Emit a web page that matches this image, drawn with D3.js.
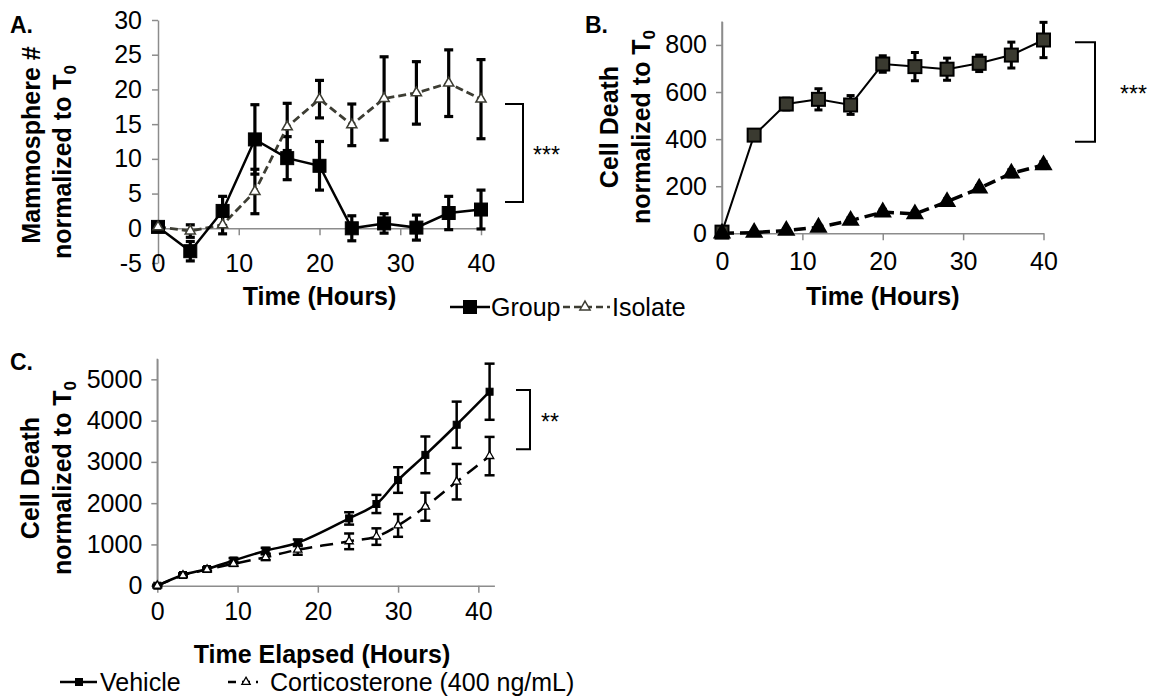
<!DOCTYPE html>
<html>
<head>
<meta charset="utf-8">
<script src="https://cdn.jsdelivr.net/npm/d3@7"></script>
<style>
  body { margin: 0; background: #fff; }
  svg { font-family: "Liberation Sans", Arial, sans-serif; }
</style>
</head>
<body>
<svg id="fig" width="1161" height="697"></svg>
<script>
// ---- data ----
var hoursAB = [0, 4, 8, 12, 16, 20, 24, 28, 32, 36, 40];

// A. mammosphere number
var mammoGroup      = [0.2, -3.3, 2.5, 12.8, 10.1, 9.0, 0.0, 0.7, 0.1, 2.2, 2.7];
var mammoGroupErr   = [0.3, 1.4, 2.1, 5.0, 3.1, 3.5, 1.8, 1.4, 1.8, 2.4, 2.8];
var mammoIsolate    = [0.2, -0.4, 0.5, 5.3, 14.6, 18.6, 14.9, 18.7, 19.5, 20.9, 18.6];
var mammoIsolateErr = [0.3, 0.9, 1.3, 3.2, 3.4, 2.7, 3.0, 6.0, 4.5, 4.8, 5.7];

// B. cell death
var deathGroup      = [5, 417, 549, 569, 545, 719, 708, 697, 722, 757, 821];
var deathGroupErr   = [10, 20, 25, 45, 40, 35, 60, 47, 35, 55, 75];
var deathIsolate    = [0, 3, 12, 25, 54, 90, 82, 134, 191, 255, 290];
var deathIsolateErr = [5, 5, 8, 10, 12, 12, 12, 12, 12, 15, 15];

// C. cell death, vehicle vs corticosterone
var hoursC     = [0, 3.2, 6.2, 9.5, 13.5, 17.5, 23.9, 27.3, 30.0, 33.4, 37.3, 41.4];
var vehicle    = [0, 259, 404, 610, 848, 1040, 1630, 1980, 2560, 3170, 3900, 4700];
var vehicleErr = [20, 40, 40, 60, 70, 80, 150, 220, 310, 445, 560, 680];
var cort       = [0, 250, 390, 530, 690, 870, 1075, 1190, 1460, 1915, 2520, 3140];
var cortErr    = [20, 30, 40, 50, 70, 120, 190, 200, 275, 340, 430, 465];

var ticksA = [-5, 0, 5, 10, 15, 20, 25, 30];
var ticksB = [0, 200, 400, 600, 800];
var ticksC = [0, 1000, 2000, 3000, 4000, 5000];
var xTicks = [0, 10, 20, 30, 40];

var svg = d3.select("#fig");
var axisColor = "#8c8c8c";
var fs = "25px";
var plain = function(d) { return String(d); };

function zip(xs, ys, es) {
  return xs.map(function(x, i) { return { x: x, y: ys[i], e: es[i] }; });
}

function styleAxis(g) {
  g.select(".domain").attr("stroke", axisColor).attr("stroke-width", 1.5);
  g.selectAll(".tick line").attr("stroke", axisColor).attr("stroke-width", 1.5);
  g.selectAll("text").attr("font-size", fs).attr("fill", "#000")
    .attr("font-family", "Liberation Sans, Arial, sans-serif");
}

// two-line rotated y title, second line ends with T subscript 0
function yTitle(x1, x2, cy1, cy2, first) {
  svg.append("text")
    .attr("transform", "translate(" + x1 + "," + cy1 + ") rotate(-90)")
    .attr("text-anchor", "middle").attr("font-size", fs).attr("font-weight", "bold")
    .text(first);
  var t = svg.append("text")
    .attr("transform", "translate(" + x2 + "," + cy2 + ") rotate(-90)")
    .attr("text-anchor", "middle").attr("font-size", fs).attr("font-weight", "bold");
  t.append("tspan").text("normalized to T");
  t.append("tspan").attr("font-size", "17px").attr("dy", 5).text("0");
}

function errorBars(g, data, x, y, cap, width) {
  var eb = g.append("g").attr("stroke", "#000").attr("stroke-width", width).attr("fill", "none");
  data.forEach(function(d) {
    var px = x(d.x), top = y(d.y + d.e), bot = y(d.y - d.e);
    eb.append("line").attr("x1", px).attr("x2", px).attr("y1", top).attr("y2", bot);
    eb.append("line").attr("x1", px - cap).attr("x2", px + cap).attr("y1", top).attr("y2", top);
    eb.append("line").attr("x1", px - cap).attr("x2", px + cap).attr("y1", bot).attr("y2", bot);
  });
}

function squares(g, data, x, y, s, fill, stroke, sw) {
  g.selectAll(null).data(data).enter().append("rect")
    .attr("x", function(d) { return x(d.x) - s / 2; })
    .attr("y", function(d) { return y(d.y) - s / 2; })
    .attr("width", s).attr("height", s)
    .attr("fill", fill).attr("stroke", stroke).attr("stroke-width", sw);
}

function triangles(g, data, x, y, s, fill, stroke, sw) {
  var tri = d3.symbol().type(d3.symbolTriangle).size(s);
  g.selectAll(null).data(data).enter().append("path")
    .attr("d", tri)
    .attr("transform", function(d) { return "translate(" + x(d.x) + "," + y(d.y) + ")"; })
    .attr("fill", fill).attr("stroke", stroke).attr("stroke-width", sw);
}

function bracket(xv, yTop, yBot, len, stars, starX, size) {
  svg.append("path")
    .attr("d", "M" + (xv - len) + "," + yTop + "H" + xv + "V" + yBot + "H" + (xv - len))
    .attr("fill", "none").attr("stroke", "#000").attr("stroke-width", 2);
  svg.append("text").attr("x", starX).attr("y", (yTop + yBot) / 2 + 10)
    .attr("font-size", size).text(stars);
}

// ================= A =================
var xA = d3.scaleLinear().domain([0, 40]).range([158, 481]);
var yA = d3.scaleLinear().domain([-5, 30]).range([263, 20]);

var gA = svg.append("g");
var yAxA = gA.append("g").attr("transform", "translate(" + xA(0) + ",0)")
  .call(d3.axisLeft(yA).tickValues(ticksA).tickFormat(plain).tickSize(6).tickSizeOuter(0).tickPadding(10));
styleAxis(yAxA);
var xAxA = gA.append("g").attr("transform", "translate(0," + yA(0) + ")")
  .call(d3.axisBottom(xA).tickValues(xTicks).tickFormat(plain).tickSize(7).tickSizeOuter(0));
styleAxis(xAxA);
xAxA.selectAll(".tick text").attr("y", yA(-5) - yA(0) - 9).attr("dy", "0.71em");
xAxA.selectAll(".tick").filter(function(d) { return d === 0; }).select("line").remove();

var lineA = d3.line().x(function(d) { return xA(d.x); }).y(function(d) { return yA(d.y); });
var isoA = zip(hoursAB, mammoIsolate, mammoIsolateErr);
var grpA = zip(hoursAB, mammoGroup, mammoGroupErr);

errorBars(gA, isoA, xA, yA, 4.5, 3.2);
errorBars(gA, grpA, xA, yA, 4.5, 3.2);
gA.append("path").datum(isoA).attr("d", lineA).attr("fill", "none")
  .attr("stroke", "#3d3d33").attr("stroke-width", 2.8).attr("stroke-dasharray", "8,4");
gA.append("path").datum(grpA).attr("d", lineA).attr("fill", "none")
  .attr("stroke", "#000").attr("stroke-width", 2.5);
squares(gA, grpA, xA, yA, 13, "#000", "#000", 1);
triangles(gA, isoA, xA, yA, 45, "#fff", "#3d3d33", 1.5);

svg.append("text").attr("x", 10).attr("y", 33).attr("font-size", "23px")
  .attr("font-weight", "bold").text("A.");
yTitle(40, 71, 145, 162, "Mammosphere #");
svg.append("text").attr("x", xA(20)).attr("y", 305).attr("text-anchor", "middle")
  .attr("font-size", fs).attr("font-weight", "bold").text("Time (Hours)");
bracket(523, yA(17.9), yA(3.8), 18, "***", 533, "23px");

// legend A/B
var lg = svg.append("g");
lg.append("line").attr("x1", 450).attr("x2", 490).attr("y1", 307).attr("y2", 307)
  .attr("stroke", "#000").attr("stroke-width", 2.5);
lg.append("rect").attr("x", 463).attr("y", 300).attr("width", 14).attr("height", 14).attr("fill", "#000");
lg.append("text").attr("x", 491).attr("y", 316).attr("font-size", fs).text("Group");
lg.append("line").attr("x1", 563).attr("x2", 610).attr("y1", 307).attr("y2", 307)
  .attr("stroke", "#3d3d33").attr("stroke-width", 2.5).attr("stroke-dasharray", "7,4");
lg.append("path").attr("d", d3.symbol().type(d3.symbolTriangle).size(45))
  .attr("transform", "translate(585,307)").attr("fill", "#fff").attr("stroke", "#3d3d33").attr("stroke-width", 1.5);
lg.append("text").attr("x", 612).attr("y", 316).attr("font-size", fs).text("Isolate");

// ================= B =================
var xB = d3.scaleLinear().domain([0, 40]).range([722, 1043.5]);
var yB = d3.scaleLinear().domain([0, 900]).range([233.3, 21.4]);

var gB = svg.append("g");
var yAxB = gB.append("g").attr("transform", "translate(" + xB(0) + ",0)")
  .call(d3.axisLeft(yB).tickValues(ticksB).tickFormat(plain).tickSize(6).tickSizeOuter(0).tickPadding(9));
styleAxis(yAxB);
gB.append("line").attr("x1", xB(0)).attr("x2", xB(0)).attr("y1", yB(900)).attr("y2", yB(0))
  .attr("stroke", axisColor).attr("stroke-width", 1.5);
var xAxB = gB.append("g").attr("transform", "translate(0," + yB(0) + ")")
  .call(d3.axisBottom(xB).tickValues(xTicks).tickFormat(plain).tickSize(7).tickSizeOuter(0).tickPadding(12));
styleAxis(xAxB);
xAxB.selectAll(".tick").filter(function(d) { return d === 0; }).select("line").remove();

var lineB = d3.line().x(function(d) { return xB(d.x); }).y(function(d) { return yB(d.y); });
var isoB = zip(hoursAB, deathIsolate, deathIsolateErr);
var grpB = zip(hoursAB, deathGroup, deathGroupErr);

errorBars(gB, grpB, xB, yB, 4, 3);
errorBars(gB, isoB, xB, yB, 4, 3);
gB.append("path").datum(isoB).attr("d", lineB).attr("fill", "none")
  .attr("stroke", "#000").attr("stroke-width", 3.5).attr("stroke-dasharray", "12,6");
gB.append("path").datum(grpB).attr("d", lineB).attr("fill", "none")
  .attr("stroke", "#000").attr("stroke-width", 2);
squares(gB, grpB, xB, yB, 13, "#3a3a30", "#000", 2);
triangles(gB, isoB, xB, yB, 95, "#000", "#000", 2);

svg.append("text").attr("x", 585).attr("y", 33).attr("font-size", "23px")
  .attr("font-weight", "bold").text("B.");
yTitle(618, 650, 127, 127, "Cell Death");
svg.append("text").attr("x", xB(20)).attr("y", 305).attr("text-anchor", "middle")
  .attr("font-size", fs).attr("font-weight", "bold").text("Time (Hours)");
bracket(1095, yB(811), yB(389), 20, "***", 1120, "23px");

// ================= C =================
var xC = d3.scaleLinear().domain([0, 42]).range([157.3, 494.4]);
var yC = d3.scaleLinear().domain([0, 5500]).range([585.7, 358.7]);

var gC = svg.append("g");
var yAxC = gC.append("g").attr("transform", "translate(" + xC(0) + ",0)")
  .call(d3.axisLeft(yC).tickValues(ticksC).tickFormat(plain).tickSize(6).tickSizeOuter(0).tickPadding(9));
styleAxis(yAxC);
gC.append("line").attr("x1", xC(0)).attr("x2", xC(0)).attr("y1", yC(5500)).attr("y2", yC(0))
  .attr("stroke", axisColor).attr("stroke-width", 1.5);
var xAxC = gC.append("g").attr("transform", "translate(0," + yC(0) + ")")
  .call(d3.axisBottom(xC).tickValues(xTicks).tickFormat(plain).tickSize(7).tickSizeOuter(0).tickPadding(10));
styleAxis(xAxC);

var lineC = d3.line().curve(d3.curveCatmullRom.alpha(0.5))
  .x(function(d) { return xC(d.x); }).y(function(d) { return yC(d.y); });
var vehC = zip(hoursC, vehicle, vehicleErr);
var corC = zip(hoursC, cort, cortErr);

errorBars(gC, vehC, xC, yC, 5, 2.5);
errorBars(gC, corC, xC, yC, 5, 2.5);
gC.append("path").datum(corC).attr("d", lineC).attr("fill", "none")
  .attr("stroke", "#000").attr("stroke-width", 2.5).attr("stroke-dasharray", "13,8");
gC.append("path").datum(vehC).attr("d", lineC).attr("fill", "none")
  .attr("stroke", "#000").attr("stroke-width", 2.5);
squares(gC, vehC, xC, yC, 7, "#000", "#000", 1);
triangles(gC, corC, xC, yC, 30, "#fff", "#000", 1.3);

svg.append("text").attr("x", 10).attr("y", 370).attr("font-size", "23px")
  .attr("font-weight", "bold").text("C.");
yTitle(39, 71, 478, 478, "Cell Death");
svg.append("text").attr("x", 322).attr("y", 663).attr("text-anchor", "middle")
  .attr("font-size", fs).attr("font-weight", "bold").text("Time Elapsed (Hours)");
bracket(530, yC(4742), yC(3305), 14, "**", 541, "23px");

// legend C
var lc = svg.append("g");
lc.append("line").attr("x1", 60).attr("x2", 97).attr("y1", 682).attr("y2", 682)
  .attr("stroke", "#000").attr("stroke-width", 2.5);
lc.append("rect").attr("x", 75).attr("y", 678).attr("width", 8).attr("height", 8).attr("fill", "#000");
lc.append("text").attr("x", 100).attr("y", 691).attr("font-size", fs).text("Vehicle");
lc.append("line").attr("x1", 228).attr("x2", 258).attr("y1", 682).attr("y2", 682)
  .attr("stroke", "#000").attr("stroke-width", 2.5).attr("stroke-dasharray", "8,6");
lc.append("path").attr("d", d3.symbol().type(d3.symbolTriangle).size(30))
  .attr("transform", "translate(246,682)").attr("fill", "#fff").attr("stroke", "#000").attr("stroke-width", 1.3);
lc.append("text").attr("x", 270).attr("y", 691).attr("font-size", fs).text("Corticosterone (400 ng/mL)");
</script>
</body>
</html>
